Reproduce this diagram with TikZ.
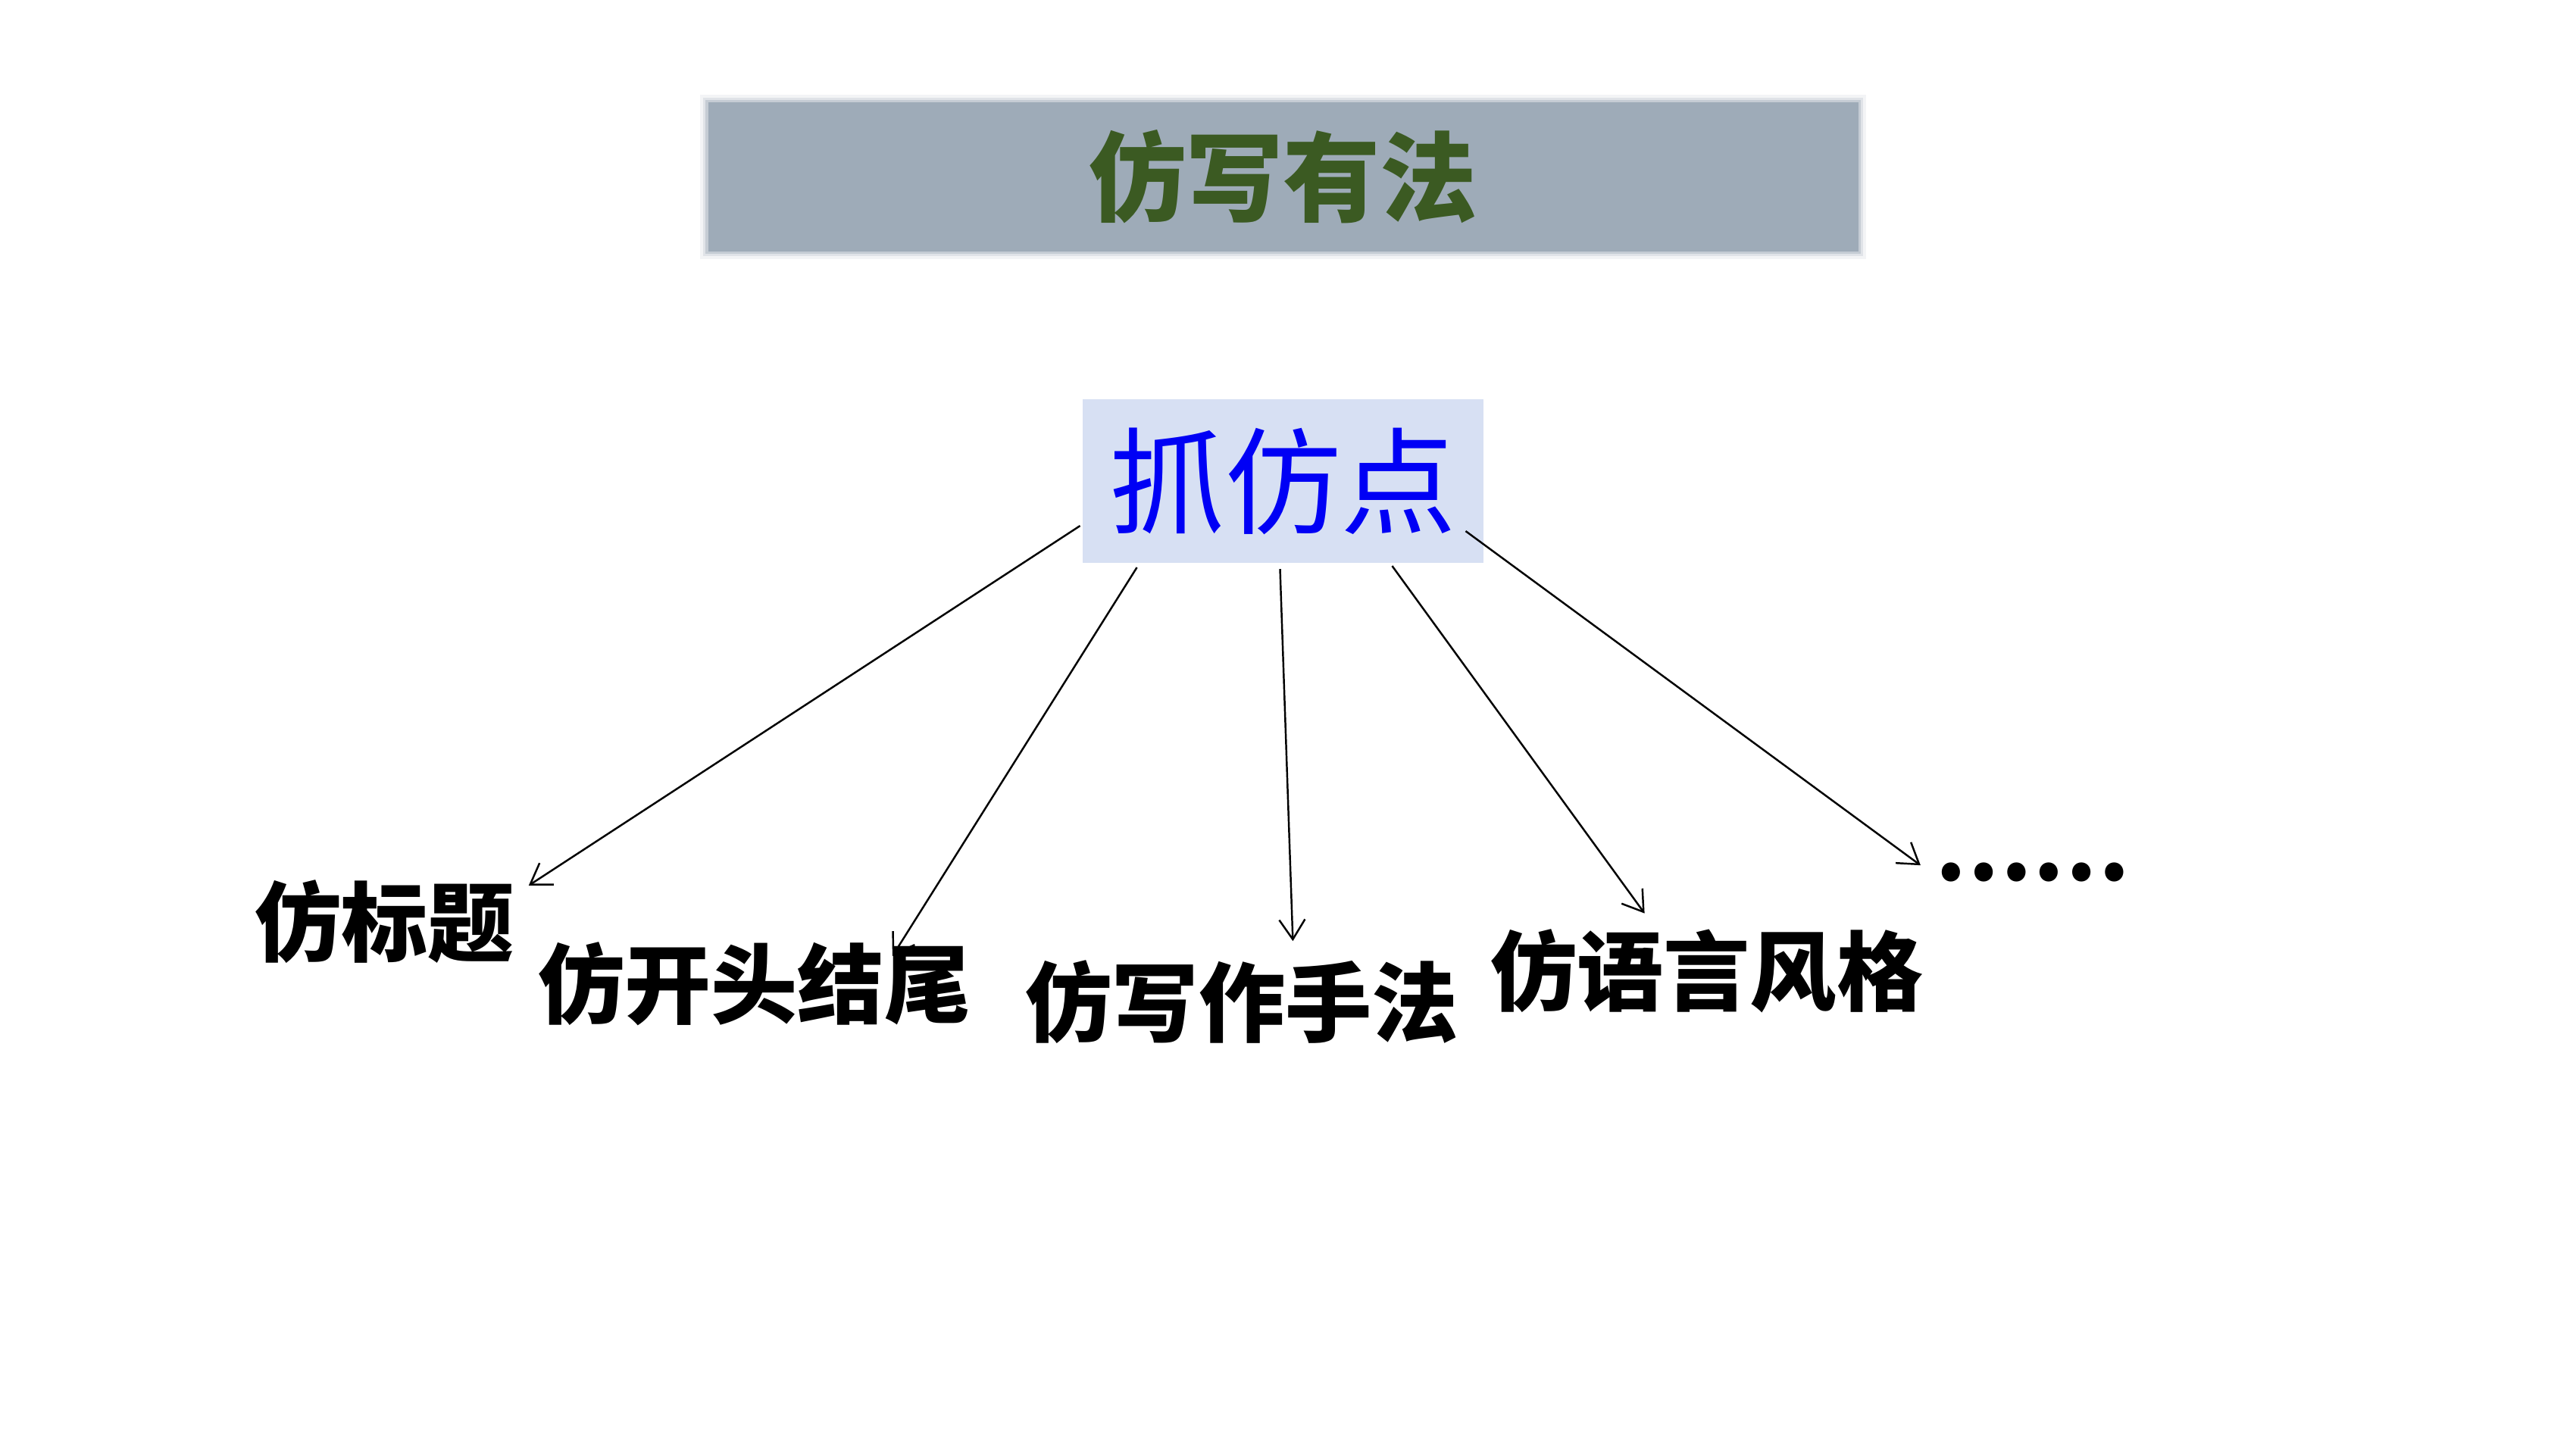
\documentclass[tikz,border=0pt]{standalone}
\usepackage{fontspec}
\newfontfamily\cjk{Noto Sans CJK SC}
\usetikzlibrary{arrows.meta,calc}
\definecolor{titlegray}{HTML}{9EABB8}
\definecolor{titlegreen}{HTML}{3B5A22}
\definecolor{srcfill}{HTML}{D7E0F3}
\definecolor{srcblue}{HTML}{0000F5}
\tikzset{
  arr/.style={draw=black, line width=0.7pt, -{Straight Barb[length=2.6mm,width=3.4mm,line width=0.7pt]}},
  leaf/.style={font=\cjk\bfseries\fontsize{32.5pt}{36pt}\selectfont, text=black, inner sep=0pt},
}
\begin{document}
\begin{tikzpicture}
\useasboundingbox (0,0) rectangle (34,19.13);
\fill[white] (0,0) rectangle (34,19.13);
% soft edge of the title bar
\foreach \d/\o in {0.10/0.12,0.06/0.22,0.03/0.4}{
  \fill[titlegray, opacity=\o] (9.344-\d,15.814-\d) rectangle (24.527+\d,17.784+\d);
}
\node[fill=titlegray, minimum width=15.18cm, minimum height=1.97cm, inner sep=0pt,
      font=\cjk\bfseries\fontsize{36.5pt}{40pt}\selectfont, text=titlegreen] (title) at (16.936,16.799) {仿写有法};
\node[fill=srcfill, minimum width=5.285cm, minimum height=2.167cm, inner sep=0pt,
      font=\cjk\fontsize{43.5pt}{48pt}\selectfont, text=srcblue] (src) at (16.935,12.78) {抓仿点};
\node[leaf] (l1) at (5.078,6.965) {仿标题};
\node[leaf] (l2) at (9.957,6.144) {仿开头结尾};
\node[leaf] (l3) at (16.391,5.906) {仿写作手法};
\node[leaf] (l4) at (22.528,6.312) {仿语言风格};
\node[leaf] (l5) at (26.823,7.619) {……};
\coordinate (e1) at (6.978,7.441);
\coordinate (e2) at (11.779,6.510);
\coordinate (e3) at (17.064,6.708);
\coordinate (e4) at (21.706,7.074);
\coordinate (e5) at (25.349,7.708);
\draw[arr] ([shift={(-0.03,0.50)}]src.south west) -- (e1);
\draw[arr] ([shift={(0.72,-0.05)}]src.south west) -- (e2);
\draw[arr] ([shift={(-0.04,-0.07)}]src.south) -- (e3);
\draw[arr] ([shift={(-1.21,-0.03)}]src.south east) -- (e4);
\draw[arr] ([shift={(-0.24,0.43)}]src.south east) -- (e5);
\end{tikzpicture}
\end{document}
